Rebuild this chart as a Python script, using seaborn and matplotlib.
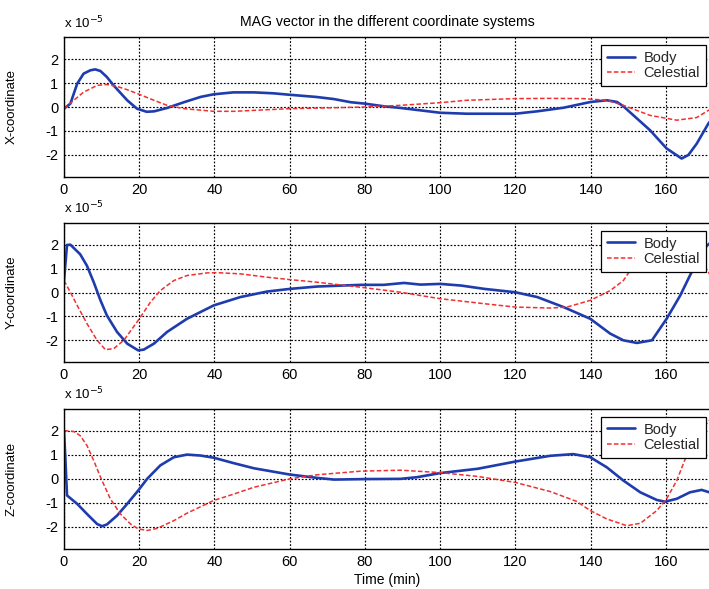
import numpy as np
import pandas as pd
import matplotlib
matplotlib.use("Agg")
import matplotlib.pyplot as plt
import seaborn as sns

# ---- data (values in units of 1e-5) ----
t_x_body = [0, 1.7, 3.5, 5.2, 7, 8.3, 9.7, 11.4, 13.2, 16.8, 19.4, 22, 24, 27.4, 31.9, 36.3, 39.8, 45,
            50.5, 55.8, 60, 67, 71.8, 76.2, 80, 85, 89.5, 100, 107, 120, 125.8, 132.8, 140, 144.3,
            147, 148.7, 151.4, 155.8, 160.2, 164.2, 166, 168.2, 171.3, 172]
x_body = [-0.07, 0.14, 0.97, 1.39, 1.53, 1.57, 1.5, 1.25, 0.9, 0.28, -0.07, -0.2, -0.18, -0.04, 0.2,
          0.42, 0.53, 0.61, 0.61, 0.57, 0.51, 0.42, 0.33, 0.2, 0.14, 0.03, -0.04, -0.24, -0.28, -0.28,
          -0.18, -0.03, 0.21, 0.28, 0.21, 0.03, -0.35, -0.97, -1.73, -2.15, -2.0, -1.53, -0.69, -0.55]

t_x_cel = [0, 2.6, 5.2, 8.8, 11.4, 14.1, 16.8, 20.3, 23.9, 27.4, 31.9, 39.8, 45.2, 50.5, 60, 71.8, 80,
           89.5, 100, 107, 120, 129.3, 138.1, 144.3, 148.7, 155.8, 162.9, 168.2, 171.2, 172]
x_cel = [-0.07, 0.28, 0.62, 0.9, 0.94, 0.86, 0.72, 0.51, 0.28, 0.07, -0.07, -0.18, -0.18, -0.14, -0.07,
         -0.03, 0.0, 0.07, 0.18, 0.28, 0.35, 0.36, 0.35, 0.28, 0.07, -0.35, -0.55, -0.44, -0.15, -0.1]

t_y_body = [0, 0.8, 1.7, 4.3, 6.1, 7.9, 9.7, 11.4, 14.1, 16.8, 19.7, 21.2, 23.9, 27.4, 32.7, 39.8,
            46.9, 54, 60, 67.3, 78.9, 85, 90.4, 94.8, 100, 105.6, 111.8, 120, 125.8, 132.8, 139.9,
            145.2, 148.7, 152.3, 156.3, 160.2, 163.8, 166.4, 168.6, 170.9, 172]
y_body = [0.5, 1.99, 2.0, 1.6, 1.12, 0.43, -0.33, -0.96, -1.65, -2.14, -2.42, -2.39, -2.14, -1.65, -1.1,
          -0.54, -0.19, 0.04, 0.15, 0.25, 0.32, 0.32, 0.4, 0.33, 0.36, 0.29, 0.15, 0.01, -0.19, -0.61,
          -1.1, -1.72, -2.0, -2.11, -2.0, -1.1, -0.13, 0.71, 1.4, 1.96, 2.1]

t_y_cel = [0, 1.7, 3.5, 6.1, 8.8, 11, 13.2, 15.9, 19.7, 23, 25.6, 29.2, 32.7, 38, 40.7, 46.9, 54, 60,
           67.3, 78.9, 89.5, 100, 111.8, 120, 129.3, 133.7, 139.9, 145.2, 148.7, 150.5, 155, 160, 165,
           168, 171.5, 172]
y_cel = [0.5, 0.01, -0.54, -1.3, -2.0, -2.39, -2.35, -2.0, -1.17, -0.4, 0.08, 0.5, 0.71, 0.82, 0.83,
         0.78, 0.64, 0.54, 0.43, 0.22, 0.01, -0.26, -0.47, -0.61, -0.65, -0.61, -0.33, 0.08, 0.5, 0.92,
         1.8, 2.2, 2.0, 1.6, 0.8, 0.7]

t_z_body = [0, 0.35, 0.8, 3.5, 6.1, 8.8, 10.1, 11.4, 14.1, 16.8, 19.7, 22.1, 25.6, 29.2, 32.7, 36.3,
            39.8, 45.2, 50.5, 60, 67.3, 71.8, 80, 89.5, 93.9, 100, 110, 120, 129.3, 135.4, 139.9,
            144.3, 148.7, 153.2, 157.6, 159.8, 162.9, 166.4, 169.5, 172]
z_body = [2.0, 0.9, -0.69, -1.04, -1.46, -1.88, -1.97, -1.9, -1.53, -1.04, -0.49, 0.0, 0.56, 0.9, 1.01,
          0.97, 0.88, 0.65, 0.44, 0.18, 0.04, -0.03, -0.01, 0.0, 0.07, 0.24, 0.42, 0.72, 0.96, 1.03,
          0.9, 0.48, -0.07, -0.56, -0.88, -0.95, -0.83, -0.56, -0.46, -0.58]

t_z_cel = [0, 2.6, 4.3, 6.1, 7.9, 9.7, 12.3, 15, 17.7, 19.7, 22.1, 24.8, 29.2, 32.7, 39.8, 45.2, 50.5,
           60, 67.3, 78.9, 89.5, 100, 110, 120, 129.3, 136.3, 139.9, 144.3, 149.6, 153.2, 157.6, 160.2,
           162.9, 165.5, 168, 172]
z_cel = [2.01, 1.97, 1.8, 1.39, 0.76, 0.07, -0.83, -1.46, -1.88, -2.08, -2.15, -2.06, -1.74, -1.43, -0.9,
         -0.63, -0.35, 0.0, 0.17, 0.32, 0.36, 0.26, 0.1, -0.15, -0.53, -0.94, -1.32, -1.67, -1.95, -1.85,
         -1.32, -0.83, -0.07, 0.97, 1.8, 2.5]

series_labels = ["Body", "Celestial"]
ylabels = ["X-coordinate", "Y-coordinate", "Z-coordinate"]
x_ticks = [0, 20, 40, 60, 80, 100, 120, 140, 160]
y_ticks = [-2, -1, 0, 1, 2]
title = "MAG vector in the different coordinate systems"
xlabel = "Time (min)"

# ---- style ----
sns.set_theme(style="white")
plt.rcParams["font.family"] = ["Liberation Sans", "DejaVu Sans"]

W, H = 709, 589
fig = plt.figure(figsize=(W / 100, H / 100), dpi=100)

blue = "#1f3cae"
red = "#f03030"

panels = [
    ((t_x_body, x_body), (t_x_cel, x_cel), 37, 177),
    ((t_y_body, y_body), (t_y_cel, y_cel), 222.7, 362.3),
    ((t_z_body, z_body), (t_z_cel, z_cel), 408.7, 549),
]

left_px, right_px = 64, 711
for i, (body, cel, top, bot) in enumerate(panels):
    ax = fig.add_axes([left_px / W, 1 - bot / H, (right_px - left_px) / W, (bot - top) / H])
    sns.lineplot(x=body[0], y=body[1], ax=ax, color=blue, lw=1.9, label=series_labels[0],
                 sort=False, estimator=None)
    sns.lineplot(x=cel[0], y=cel[1], ax=ax, color=red, lw=1.1, label=series_labels[1],
                 sort=False, estimator=None, dashes=False)
    ax.lines[1].set_dashes((3, 1.5))
    ax.set_xlim(0, 172)
    ax.set_ylim(-2.92, 2.92)
    ax.set_xticks(x_ticks)
    ax.set_yticks(y_ticks)
    ax.set_xticklabels([str(v) for v in x_ticks])
    ax.set_yticklabels([str(v) for v in y_ticks])
    ax.tick_params(axis="both", direction="in", length=4, labelsize=10.5, colors="black", pad=4)
    ax.grid(True, color="black", linestyle=(0, (1.5, 1.5)), linewidth=0.85)
    for s in ax.spines.values():
        s.set_color("black")
        s.set_linewidth(1.0)
    ax.set_ylabel(ylabels[i], fontsize=9.5, color="black")
    ax.yaxis.set_label_coords(-46 / (right_px - left_px), 0.5)
    ax.text(0.0, 1 + 6 / (bot - top), r"x 10$^{-5}$", transform=ax.transAxes, fontsize=9.5,
            ha="left", va="bottom", color="black")
    leg = ax.legend(loc="upper right", bbox_to_anchor=(1 - 5 / (right_px - left_px), 1 - 8 / (bot - top)),
                    borderaxespad=0, frameon=True, fancybox=False, shadow=False, fontsize=10.5,
                    handlelength=1.9, handletextpad=0.6, borderpad=0.4, labelspacing=0.1,
                    borderaxespad_=None) if False else ax.legend(
                    loc="upper right", bbox_to_anchor=(1 - 5 / (right_px - left_px), 1 - 8 / (bot - top)),
                    borderaxespad=0, frameon=True, fancybox=False, shadow=False, fontsize=10.5,
                    handlelength=1.9, handletextpad=0.6, borderpad=0.4, labelspacing=0.1)
    leg.get_frame().set_edgecolor("black")
    leg.get_frame().set_linewidth(0.9)
    leg.get_frame().set_alpha(1)
    if i == 2:
        ax.set_xlabel(xlabel, fontsize=10, color="black", labelpad=3)
    else:
        ax.set_xlabel("")

fig.text(387.5 / W, 1 - 22 / H, title, ha="center", va="center", fontsize=10.2, color="black")

fig.savefig("out.png", dpi=100)
